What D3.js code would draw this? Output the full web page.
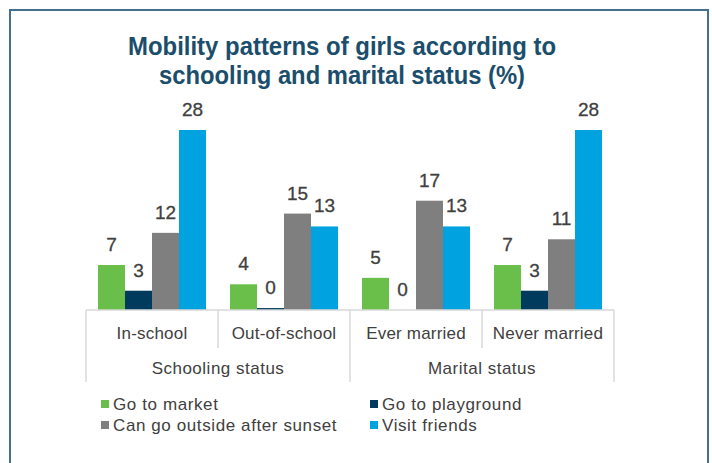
<!DOCTYPE html>
<html>
<head>
<meta charset="utf-8">
<script src="https://cdn.jsdelivr.net/npm/d3@7"></script>
<style>
  body { margin: 0; background: #fff; }
  svg { display: block; }
</style>
</head>
<body>
<div id="chart"></div>
<script>
// =======================
// GROUPED BAR CHART
// Mobility patterns of girls by schooling and marital status (%)
// =======================

const categories = ["In-school", "Out-of-school", "Ever married", "Never married"];
const groups = [
  { name: "Schooling status", members: ["In-school", "Out-of-school"] },
  { name: "Marital status", members: ["Ever married", "Never married"] }
];
const series = ["Go to market", "Go to playground", "Can go outside after sunset", "Visit friends"];
const goMarket = [7, 4, 5, 7];
const goPlayground = [3, 0.3, 0, 3];
const afterSunset = [12, 15, 17, 11];
const visitFriends = [28, 13, 13, 28];
const seriesValues = [goMarket, goPlayground, afterSunset, visitFriends];

const colors = ["#6abf4b", "#003a5d", "#7f7f80", "#00a3e0"];

const width = 712, height = 463;
const svg = d3.select("#chart")
  .append("svg")
    .attr("width", width)
    .attr("height", height);

// frame
svg.append("path")
  .attr("d", `M10,${height} V10 H708 V${height}`)
  .attr("fill", "none")
  .attr("stroke", "#43708f")
  .attr("stroke-width", 2);

// Title (condensed look)
const title = svg.append("text")
  .attr("text-anchor", "middle")
  .style("font-family", "'Liberation Sans', Arial, sans-serif")
  .style("font-size", "26px")
  .style("font-weight", "bold")
  .attr("fill", "#1b4e6c");
title.append("tspan").attr("x", 342).attr("y", 55)
  .attr("textLength", 428).attr("lengthAdjust", "spacingAndGlyphs")
  .text("Mobility patterns of girls according to");
title.append("tspan").attr("x", 342).attr("y", 84)
  .attr("textLength", 366).attr("lengthAdjust", "spacingAndGlyphs")
  .text("schooling and marital status (%)");

// Scales
const x0 = d3.scaleBand()
  .domain(categories)
  .range([86, 614]);

const x1 = d3.scaleBand()
  .domain(series)
  .range([12, x0.bandwidth() - 12]);

const y = d3.scaleLinear()
  .domain([0, 28])
  .range([310, 130]);

// data table
const table = [];
categories.forEach((c, i) => {
  series.forEach((s, j) => {
    table.push({ cat: c, ser: s, value: seriesValues[j][i], color: colors[j] });
  });
});

// Bars
svg.append("g")
  .selectAll("rect")
  .data(table)
  .enter()
  .append("rect")
    .attr("x", d => x0(d.cat) + x1(d.ser))
    .attr("y", d => y(d.value))
    .attr("width", x1.bandwidth())
    .attr("height", d => y(0) - y(d.value))
    .attr("fill", d => d.color);

// Value labels
svg.append("g")
  .selectAll("text")
  .data(table)
  .enter()
  .append("text")
    .attr("x", d => x0(d.cat) + x1(d.ser) + x1.bandwidth() / 2)
    .attr("y", d => y(d.value) - 14)
    .attr("text-anchor", "middle")
    .style("font-family", "'Liberation Sans', Arial, sans-serif")
    .style("font-size", "19px")
    .attr("fill", "#404040")
    .attr("stroke", "#404040")
    .attr("stroke-width", 0.3)
    .text(d => d3.format(".0f")(d.value));

// Axis (multi-level)
const axisColor = "#d9d9d9";
const axis = svg.append("g");
axis.append("line")
  .attr("x1", 86).attr("x2", 614)
  .attr("y1", y(0)).attr("y2", y(0))
  .attr("stroke", axisColor).attr("stroke-width", 1.5);

const groupEdges = [86, x0(groups[1].members[0]), 614];
categories.forEach((c, i) => {
  if (i > 0 && !groupEdges.includes(x0(c))) {
    axis.append("line")
      .attr("x1", x0(c)).attr("x2", x0(c))
      .attr("y1", y(0)).attr("y2", 348)
      .attr("stroke", axisColor).attr("stroke-width", 1.5);
  }
});
groupEdges.forEach(e => {
  axis.append("line")
    .attr("x1", e).attr("x2", e)
    .attr("y1", y(0)).attr("y2", 382)
    .attr("stroke", axisColor).attr("stroke-width", 1.5);
});

const labelFont = "'Liberation Sans', Arial, sans-serif";
axis.selectAll(".cat")
  .data(categories)
  .enter()
  .append("text")
    .attr("x", d => x0(d) + x0.bandwidth() / 2)
    .attr("y", 339)
    .attr("text-anchor", "middle")
    .style("font-family", labelFont)
    .style("font-size", "17px")
    .style("letter-spacing", "0.2px")
    .attr("fill", "#404040")
    .text(d => d);

axis.selectAll(".grp")
  .data(groups)
  .enter()
  .append("text")
    .attr("x", d => (x0(d.members[0]) + x0(d.members[d.members.length - 1]) + x0.bandwidth()) / 2)
    .attr("y", 374)
    .attr("text-anchor", "middle")
    .style("font-family", labelFont)
    .style("font-size", "17px")
    .style("letter-spacing", "0.5px")
    .attr("fill", "#404040")
    .text(d => d.name);

// Legend
const legend = svg.append("g")
  .selectAll("g")
  .data(series)
  .enter()
  .append("g")
    .attr("transform", (d, i) => `translate(${i % 2 === 0 ? 101 : 370},${404 + Math.floor(i / 2) * 21})`);

legend.append("rect")
  .attr("x", 0).attr("y", -4)
  .attr("width", 8).attr("height", 8)
  .attr("fill", (d, i) => colors[i]);

legend.append("text")
  .attr("x", 12)
  .attr("y", 6)
  .style("font-family", labelFont)
  .style("font-size", "17px")
  .style("letter-spacing", "0.6px")
  .attr("fill", "#404040")
  .text(d => d);
</script>
</body>
</html>
